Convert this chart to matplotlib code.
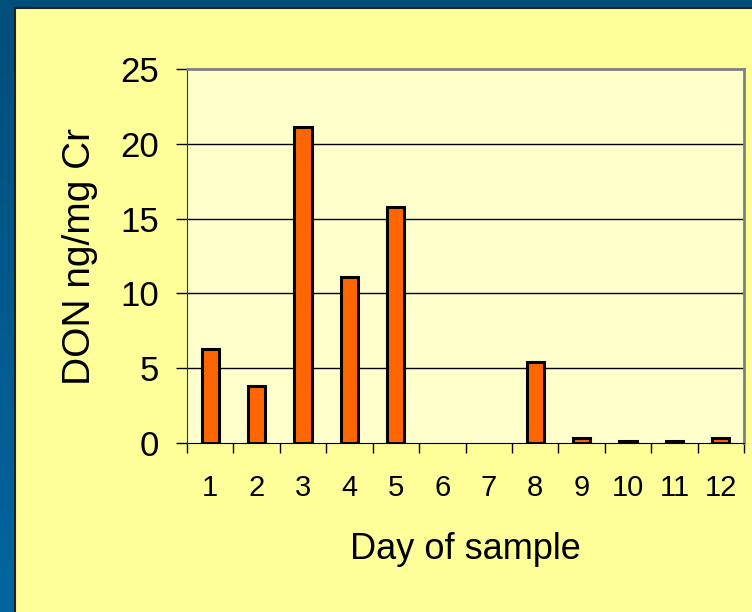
import matplotlib
matplotlib.use("Agg")
import matplotlib.pyplot as plt
import numpy as np
from matplotlib.patches import Rectangle
from matplotlib.colors import LinearSegmentedColormap

# data
days = ["1", "2", "3", "4", "5", "6", "7", "8", "9", "10", "11", "12"]
don_values = [6.3, 3.8, 21.1, 11.1, 15.8, 0, 0, 5.4, 0.35, 0.15, 0.15, 0.35]
y_ticks = [0, 5, 10, 15, 20, 25]

plt.rcParams["font.family"] = ["Liberation Sans", "DejaVu Sans"]

fig = plt.figure(figsize=(7.52, 6.12), dpi=100)

# blue gradient slide background
bg = fig.add_axes([0, 0, 1, 1], zorder=-10)
grad = np.linspace(0, 1, 256).reshape(-1, 1)
cmap = LinearSegmentedColormap.from_list("slide", ["#004E7A", "#0066A0"])
bg.imshow(grad, aspect="auto", cmap=cmap, extent=[0, 1, 0, 1], origin="upper")
bg.set_xlim(0, 1)
bg.set_ylim(0, 1)
bg.axis("off")

# yellow chart panel
x0 = 15 / 752
y1 = 1 - 8 / 612
bg.add_patch(Rectangle((x0, 0), 1 - x0, y1, facecolor="#FFFF99", edgecolor="none"))
bg.plot([x0, x0, 1], [0, y1, y1], color="#222222", lw=1.5)

ax = fig.add_axes([187 / 752, 1 - 443 / 612, (744 - 187) / 752, (443 - 69) / 612])
ax.set_facecolor("#FFFFCC")

x = np.arange(len(days))
edge_w = [2.2 if v > 0 else 0 for v in don_values]  # empty days show no bar at all
ax.bar(x, don_values, width=0.37, color="#FF6600", edgecolor="black", linewidth=edge_w, zorder=3)

ax.set_xlim(-0.5, len(days) - 0.5)
ax.set_ylim(0, 25)
ax.set_yticks(y_ticks)
ax.set_yticklabels([str(v) for v in y_ticks], fontsize=25)
ax.set_xticks(x)
ax.set_xticklabels(days, fontsize=21)
ax.tick_params(axis="x", length=0, pad=22)
ax.set_xticks(np.arange(len(days) + 1) - 0.5, minor=True)
ax.tick_params(axis="x", which="minor", length=7, width=1, color="black")
ax.tick_params(axis="y", length=8, width=1, pad=12, color="black")

for v in y_ticks[1:-1]:
    ax.axhline(v, color="black", lw=1, zorder=1)

ax.spines["top"].set_color("#808080")
ax.spines["right"].set_color("#808080")
ax.spines["top"].set_linewidth(2)
ax.spines["right"].set_linewidth(2)
ax.spines["left"].set_color("#333333")
ax.spines["bottom"].set_color("black")

ax.set_xlabel("Day of sample", fontsize=26, labelpad=22)
ax.set_ylabel("DON ng/mg Cr", fontsize=28, labelpad=16)

plt.savefig("out.png", dpi=100)
plt.close()
